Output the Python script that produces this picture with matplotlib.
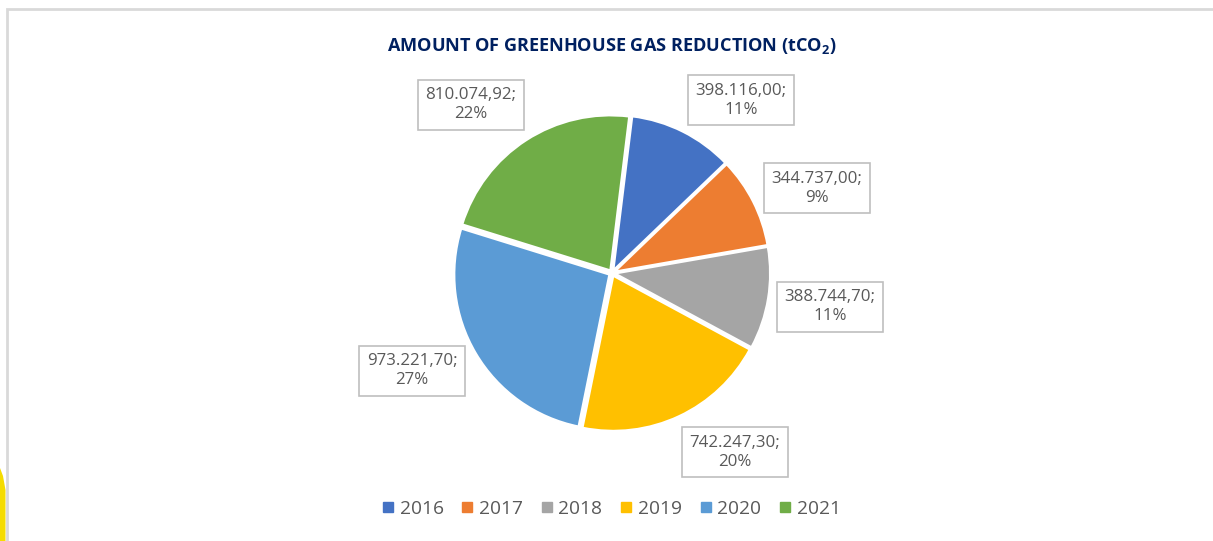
import matplotlib
matplotlib.use("Agg")
import matplotlib.pyplot as plt
from matplotlib.lines import Line2D
from matplotlib.patches import Rectangle, Polygon

plt.rcParams['font.family'] = ['Open Sans', 'DejaVu Sans']
plt.rcParams['mathtext.fontset'] = 'custom'
plt.rcParams['mathtext.rm'] = 'Open Sans'
plt.rcParams['mathtext.bf'] = 'Open Sans:bold'

# greenhouse gas reduction per year (tCO2)
years = ['2016', '2017', '2018', '2019', '2020', '2021']
reduction = [398116.00, 344737.00, 388744.70, 742247.30, 973221.70, 810074.92]
colours = ['#4472C4', '#ED7D31', '#A5A5A5', '#FFC000', '#5B9BD5', '#70AD47']

# label box centres, in pie radius units
label_xy = [(0.832, 1.116), (1.323, 0.548), (1.406, -0.219),
            (0.794, -1.155), (-1.290, -0.632), (-0.910, 1.084)]

W, H = 1213, 541
R_PX = 155
CX, CY = 612, 273


def fmt_value(v):
    s = f"{v:,.2f}"
    return s.replace(",", "X").replace(".", ",").replace("X", ".")


def main():
    fig = plt.figure(figsize=(W / 100, H / 100), dpi=100)
    fig.patch.set_facecolor('white')

    half = 1.4 * R_PX
    ax = fig.add_axes([(CX - half) / W, (H - CY - half) / H,
                       2 * half / W, 2 * half / H])

    total = sum(reduction)
    wedges, _ = ax.pie(reduction, colors=colours, startangle=83,
                       counterclock=False, explode=[0.02] * len(reduction),
                       wedgeprops=dict(edgecolor='white', linewidth=1.5))
    ax.set_xlim(-1.4, 1.4)
    ax.set_ylim(-1.4, 1.4)
    ax.set_aspect('equal')
    ax.axis('off')

    for v, (lx, ly) in zip(reduction, label_xy):
        txt = f"{fmt_value(v)};\n{round(100 * v / total):d}%"
        ax.text(lx, ly, txt, ha='center', va='center', fontsize=12.2,
                color='#595959', linespacing=1.25,
                bbox=dict(boxstyle='square,pad=0.45', facecolor='white',
                          edgecolor='#BFBFBF', linewidth=1.2))

    fig.text(CX / W, 1 - 46 / H,
             r"AMOUNT OF GREENHOUSE GAS REDUCTION (tCO$_\mathbf{2}$)",
             ha='center', va='center', fontsize=13.1, fontweight='bold',
             color='#002060')

    handles = [Line2D([], [], marker='s', linestyle='none', markersize=6.5,
                      markerfacecolor=c, markeredgecolor=c) for c in colours]
    fig.legend(handles, years, loc='center', bbox_to_anchor=(CX / W, 1 - 509 / H),
               ncol=6, frameon=False, fontsize=13.8, labelcolor='#595959',
               handlelength=0.5, handletextpad=0.35, columnspacing=1.0)

    # chart area border (only top and left edges fall inside the image)
    fig.add_artist(Rectangle((7 / W, -0.1), 1.2, 1.1 - 9 / H,
                             transform=fig.transFigure, facecolor='none',
                             edgecolor='#D9D9D9', linewidth=2))
    # yellow shape peeking in at the lower left
    fig.add_artist(Polygon([(0, 1 - 468 / H), (3 / W, 1 - 476 / H),
                            (5.5 / W, 1 - 490 / H), (5.5 / W, 0), (0, 0)],
                           closed=True, transform=fig.transFigure,
                           facecolor='#F5DC00', edgecolor='none'))

    fig.savefig('out.png', dpi=100)


if __name__ == "__main__":
    main()
